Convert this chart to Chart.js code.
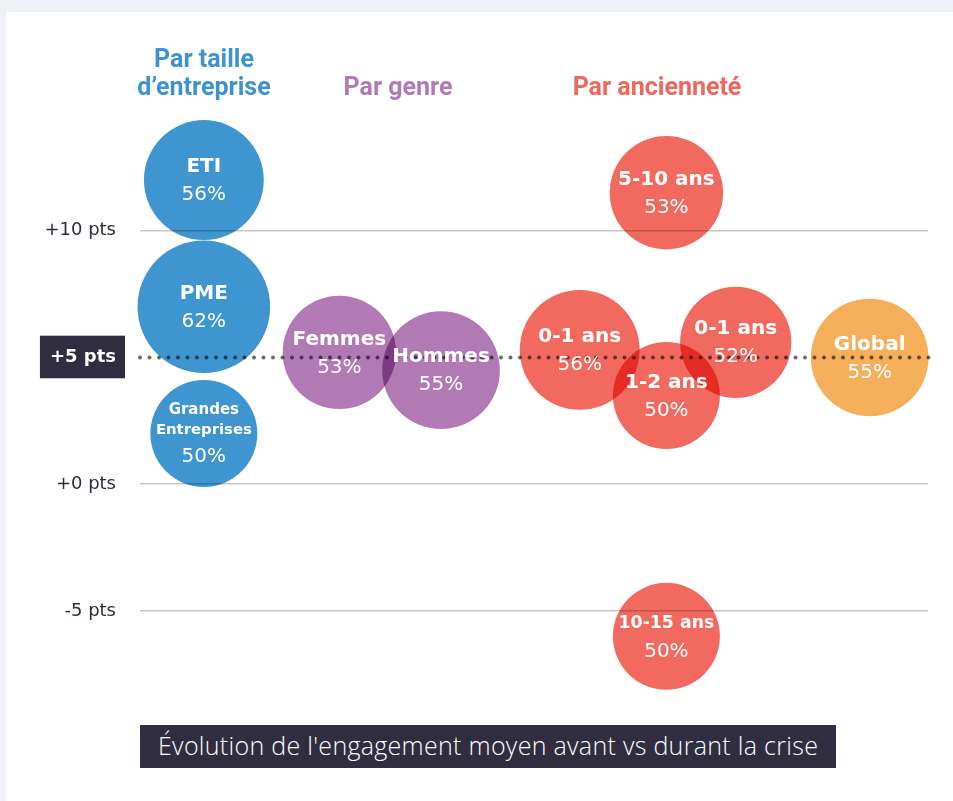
<!DOCTYPE html>
<html lang="fr">
<head>
<meta charset="UTF-8">
<title>Évolution de l'engagement moyen</title>
<script src="https://cdn.jsdelivr.net/npm/chart.js"></script>
<style>
  html, body { margin: 0; padding: 0; }
  body { width: 953px; height: 801px; overflow: hidden; position: relative; background: #EEF1F8; }
  .card { position: absolute; left: 6px; top: 12px; right: 0; bottom: 0; background: #fff; }
  #bubbles { position: absolute; left: 0; top: 0; }
  .group-title { position: absolute; transform: translateX(-50%); text-align: center; white-space: nowrap;
                 font-family: Roboto, sans-serif; font-weight: 700; font-size: 25px; line-height: 28px; }
  .caption { position: absolute; left: 140px; top: 725px; width: 678px; height: 43px; padding-left: 18px;
             background: #302D40; color: #fff; font-family: "Open Sans", sans-serif; font-weight: 300;
             font-size: 25px; letter-spacing: 0.3px; line-height: 41px; white-space: nowrap; }
</style>
</head>
<body>
<div class="card"></div>
<canvas id="bubbles" width="953" height="801"></canvas>

<div class="group-title" style="left:204px; top:45px; color:#3E93CF;">Par taille<br>d’entreprise</div>
<div class="group-title" style="left:398px; top:73px; color:#B07AB4;">Par genre</div>
<div class="group-title" style="left:657px; top:73px; color:#F0675B;">Par ancienneté</div>
<div class="caption">Évolution de l'engagement moyen avant vs durant la crise</div>

<script>
    // x = column on a 0-100 scale, y = evolution in pts, pct = engagement (drives bubble size)
    const tailleNames = ['ETI', 'PME', 'Grandes\nEntreprises'];
    const tailleCol = [8.1, 8.1, 8.1];
    const taillePts = [12, 7, 2];
    const taillePct = [56, 62, 50];

    const genreNames = ['Femmes', 'Hommes'];
    const genreCol = [25.3, 38.2];
    const genrePts = [5.2, 4.5];
    const genrePct = [53, 55];

    const ancNames = ['5-10 ans', '0-1 ans', '1-2 ans', '0-1 ans', '10-15 ans'];
    const ancCol = [66.8, 55.8, 66.8, 75.6, 66.8];
    const ancPts = [11.5, 5.3, 3.5, 5.6, -6];
    const ancPct = [53, 56, 50, 52, 50];

    const globalNames = ['Global'];
    const globalCol = [92.6];
    const globalPts = [5];
    const globalPct = [55];

    const yTicks = [10, 5, 0, -5];
    const refValue = 5;

    const R_PER_PCT = 1.07;
    const FONT = '"DejaVu Sans", sans-serif';

    function series(cols, pts, pct) {
        return cols.map((x, i) => ({ x: x, y: pts[i], r: pct[i] * R_PER_PCT }));
    }

    function makeDataset(names, cols, pts, pct, color) {
        return {
            data: series(cols, pts, pct),
            names: names,
            pcts: pct,
            backgroundColor: color,
            borderWidth: 0,
            hoverBorderWidth: 0,
            clip: false
        };
    }

    const isRef = c => !!(c && c.tick && c.tick.value === refValue);

    // dotted +5 line under the bubbles, bubbles blended with multiply, labels on top
    const bubbleLayers = {
        id: 'bubbleLayers',
        beforeDatasetsDraw(chart) {
            const { ctx, chartArea, scales } = chart;
            const y = scales.y.getPixelForValue(refValue);
            ctx.save();
            ctx.fillStyle = '#6a6a6a';
            for (let x = chartArea.left; x <= chartArea.right + 2; x += 9.5) {
                ctx.beginPath();
                ctx.arc(x, y, 2, 0, Math.PI * 2);
                ctx.fill();
            }
            ctx.restore();
            ctx.save();
            ctx.globalCompositeOperation = 'multiply';
        },
        afterDatasetsDraw(chart) {
            const ctx = chart.ctx;
            ctx.restore();
            ctx.save();
            ctx.fillStyle = '#fff';
            ctx.textAlign = 'center';
            ctx.textBaseline = 'middle';
            chart.data.datasets.forEach((ds, di) => {
                chart.getDatasetMeta(di).data.forEach((el, i) => {
                    const r = el.options.radius;
                    const maxW = 2 * r - 11;
                    const lines = ds.names[i].split('\n');
                    const multi = lines.length > 1;
                    const size = multi ? 15 : 20;
                    lines.forEach((line, k) => {
                        let fs = size;
                        ctx.font = 'bold ' + fs + 'px ' + FONT;
                        const w = ctx.measureText(line).width;
                        if (w > maxW) {
                            fs = fs * maxW / w;
                            ctx.font = 'bold ' + fs + 'px ' + FONT;
                        }
                        ctx.fillText(line, el.x, el.y + (multi ? -23 + k * 20 : -13));
                    });
                    ctx.font = '20px ' + FONT;
                    ctx.fillText(ds.pcts[i] + '%', el.x, el.y + (multi ? 23 : 15));
                });
            });
            ctx.restore();
        }
    };

    const ctx = document.getElementById('bubbles').getContext('2d');
    new Chart(ctx, {
        type: 'bubble',
        data: {
            datasets: [
                makeDataset(tailleNames, tailleCol, taillePts, taillePct, '#3F95CF'),
                makeDataset(genreNames, genreCol, genrePts, genrePct, '#B27AB5'),
                makeDataset(ancNames, ancCol, ancPts, ancPct, '#F26A5F'),
                makeDataset(globalNames, globalCol, globalPts, globalPct, '#F5AE5A')
            ]
        },
        options: {
            responsive: false,
            animation: false,
            events: [],
            layout: { autoPadding: false, padding: { left: 0, right: 25, top: 104, bottom: 114 } },
            plugins: {
                legend: { display: false },
                tooltip: { enabled: false }
            },
            scales: {
                x: { type: 'linear', min: 0, max: 100, display: false },
                y: {
                    type: 'linear',
                    min: -8,
                    max: 15,
                    afterBuildTicks: scale => { scale.ticks = yTicks.map(v => ({ value: v })); },
                    afterFit: scale => { scale.width = 140; },
                    border: { display: false },
                    grid: {
                        drawTicks: false,
                        lineWidth: 1.5,
                        color: c => isRef(c) ? 'rgba(0,0,0,0)' : '#c7c7c7'
                    },
                    ticks: {
                        padding: 24,
                        color: c => isRef(c) ? '#fff' : '#2E2B3F',
                        font: c => isRef(c)
                            ? { family: FONT, size: 18, weight: 'bold' }
                            : { family: FONT, size: 18 },
                        showLabelBackdrop: c => isRef(c),
                        backdropColor: '#302D40',
                        backdropPadding: { top: 11, bottom: 10, left: 10, right: 9 },
                        callback: v => (v >= 0 ? '+' : '') + v + ' pts'
                    }
                }
            }
        },
        plugins: [bubbleLayers]
    });
</script>
</body>
</html>
